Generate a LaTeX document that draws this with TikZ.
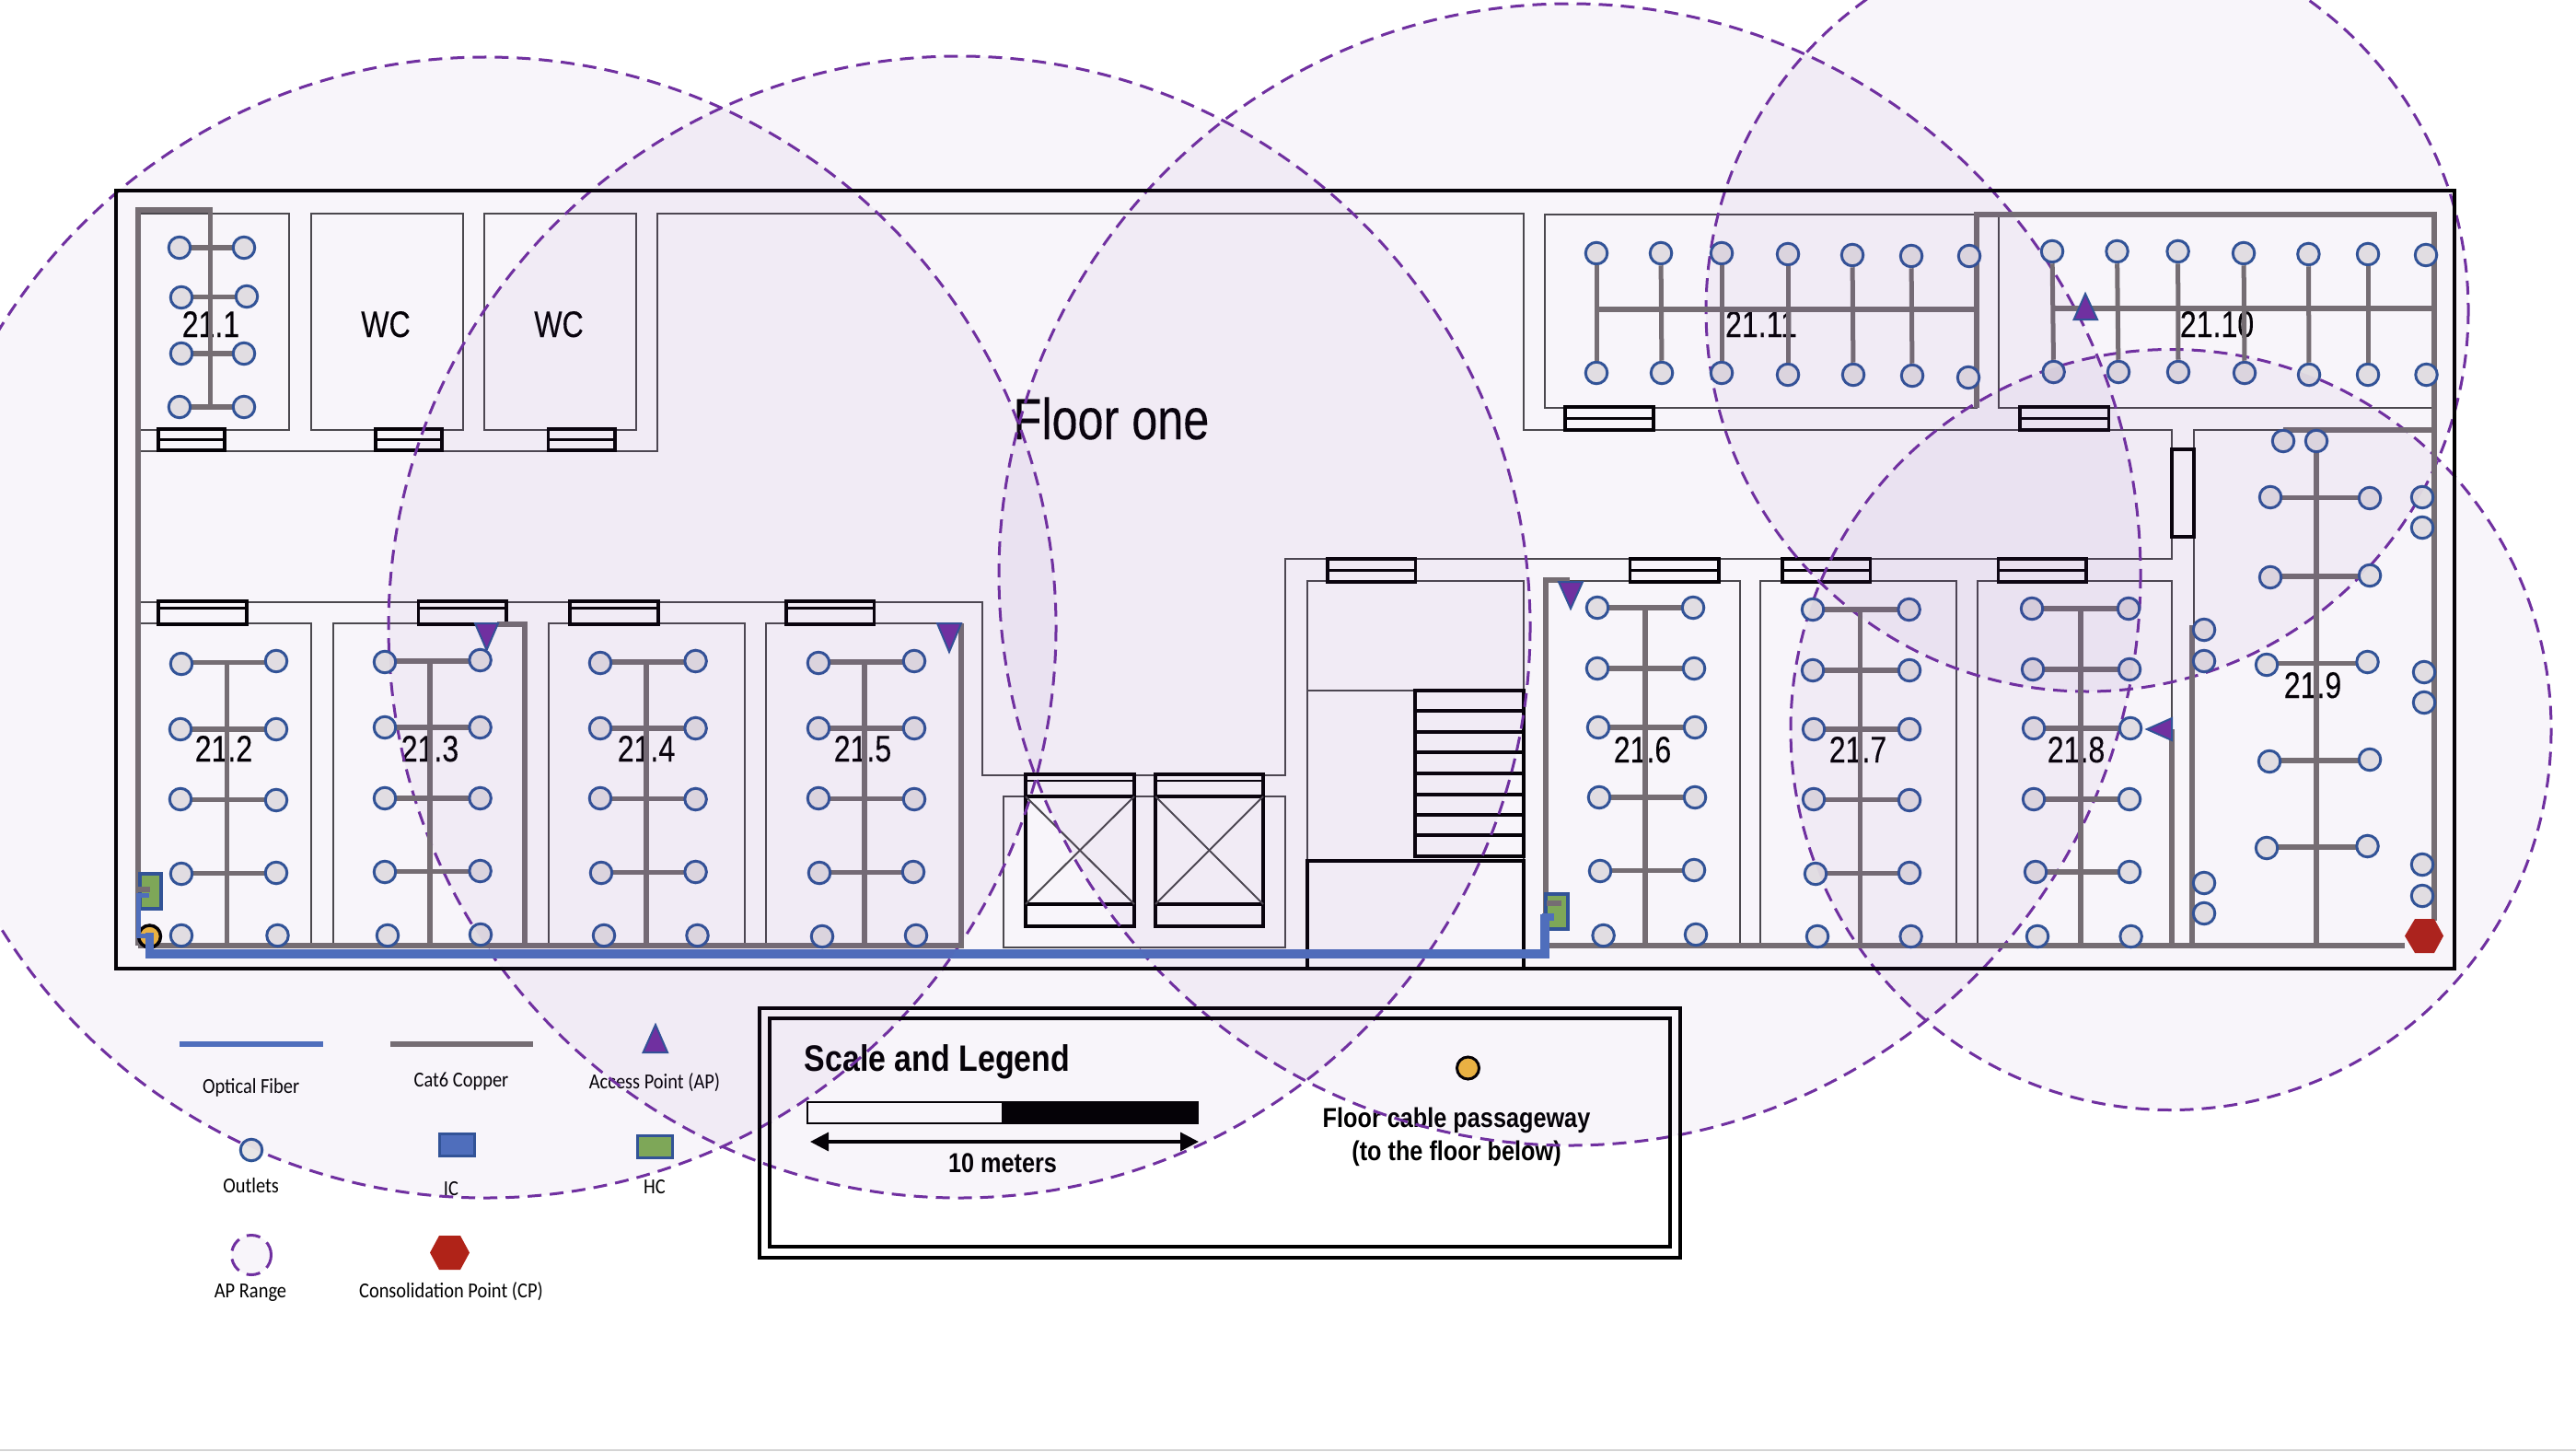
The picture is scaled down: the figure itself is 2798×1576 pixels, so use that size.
\documentclass[tikz,border=0pt]{standalone}
\usepackage{fontspec}
\newfontfamily\plabel[FakeStretch=0.8,FakeBold=0.2]{Liberation Sans}
\newfontfamily\pbold[FakeStretch=0.85]{Liberation Sans}
\newfontfamily\pleg[FakeStretch=0.88]{Carlito}
\usetikzlibrary{arrows.meta}
\definecolor{cable}{HTML}{767171}
\definecolor{fiber}{HTML}{4E72BE}
\definecolor{edgeblue}{HTML}{2F5597}
\definecolor{outletfill}{HTML}{E7E6E6}
\definecolor{apviolet}{HTML}{7030A0}
\definecolor{hcgreen}{HTML}{7FAD55}
\definecolor{cpred}{HTML}{B02318}
\definecolor{passage}{HTML}{F0B83F}
\definecolor{wallgray}{HTML}{4A4A4A}
\tikzset{
  outlet/.style={circle,draw=edgeblue,fill=outletfill,line width=0.03cm,minimum size=0.235cm,inner sep=0pt},
  cat/.style={draw=cable,line width=0.055cm},
  fib/.style={draw=fiber,line width=0.095cm},
  wall/.style={draw=wallgray,line width=0.02cm},
  blk/.style={draw=black,line width=0.035cm},
  ap/.style={draw=edgeblue,fill=apviolet,line width=0.02cm,line join=miter},
  aprange/.style={draw=apviolet,line width=0.03cm,dash pattern=on 0.15cm off 0.09cm},
  aptint/.style={fill=apviolet,fill opacity=0.048},
  room/.style={anchor=base,inner sep=0pt,font=\plabel\fontsize{11.4}{13}\selectfont},
  boldt/.style={anchor=base,inner sep=0pt,font=\pbold\bfseries\fontsize{8.45}{10}\selectfont},
  leg/.style={anchor=base,inner sep=0pt,font=\pleg\fontsize{6.6}{8}\selectfont}
}
\newcommand\rung[4]{\draw[cat] (#1,{(#2+#4)/2}) -- (#3,{(#2+#4)/2});\node[outlet] (ra) at (#1,#2) {};\node[outlet] (rb) at (#3,#4) {};}
\newcommand\lone[2]{\node[outlet] at (#1,#2) {};}
\newcommand\doorh[3]{\draw[blk] (#1,#2) rectangle (#3,#2+25);\draw[draw=black,line width=0.03cm] (#1,#2+12) -- (#3,#2+12);}
\newcommand\stemcol[4]{\node[outlet] (ta) at (#1,#2) {};\node[outlet] (tb) at (#3,#4) {};\draw[cat,line width=0.05cm] (ta) -- (tb);}
\begin{document}
\begin{tikzpicture}[x=0.01cm,y=-0.01cm]
\useasboundingbox (0,0) rectangle (2798,1576);
\fill[white] (0,0) rectangle (2798,1576);
\fill[black!17] (0,1574) rectangle (2798,1576);
% --- labels (cables run over them)
\node[room] (l211) at (229,366) {21.1};
\node[room] (lwc1) at (419,366) {WC};
\node[room] (lwc2) at (607,366) {WC};
\node[room] (l212) at (243,827) {21.2};
\node[room] (l213) at (467,827) {21.3};
\node[room] (l214) at (702,827) {21.4};
\node[room] (l215) at (937,827) {21.5};
\node[room] (l216) at (1784,828) {21.6};
\node[room] (l217) at (2018,828) {21.7};
\node[room] (l218) at (2255,828) {21.8};
\node[room] (l219) at (2512,758) {21.9};
\node[room] (l2111) at (1913,366) {21.11};
\node[room] (l2110) at (2408,366) {21.10};
\node[anchor=base,inner sep=0pt,font=\plabel\fontsize{17.9}{20}\selectfont] (lfloor) at (1207,477) {Floor one};
\node[leg] (kfiber) at (272.6,1187) {Optical Fiber};
\node[leg] (kcat) at (501,1180) {Cat6 Copper};
\node[leg] (kap) at (711,1182) {Access Point (AP)};
\node[leg] (kout) at (272.6,1295) {Outlets};
\node[leg] (kic) at (490,1298) {IC};
\node[leg] (khc) at (711,1296) {HC};
\node[leg] (krange) at (272,1409) {AP Range};
\node[leg] (kcp) at (490,1409) {Consolidation Point (CP)};
\node[anchor=base,inner sep=0pt,font=\pbold\bfseries\fontsize{11.35}{13}\selectfont] (ltitle) at (1018,1163) {Scale and Legend};
\node[boldt] (lten) at (1089,1273) {10 meters};
\node[boldt] (lpa) at (1582,1224) {Floor cable passageway};
\node[boldt] (lpb) at (1582,1260) {(to the floor below)};
% --- walls
\draw[wall] (151,232) rectangle (314,467);
\draw[wall] (337.5,232) rectangle (503,467);
\draw[wall] (526,232) rectangle (691,467);
\draw[wall] (152,490) -- (714,490) -- (714,232) -- (1655,232) -- (1655,467) -- (2359,467) -- (2359,607) -- (1396,607) -- (1396,842) -- (1067,842) -- (1067,654) -- (152,654);
\draw[wall] (152,677) rectangle (338,1027);
\draw[wall] (361.5,677) rectangle (570,1027);
\draw[wall] (596,677) rectangle (808.5,1027);
\draw[wall] (832,677) rectangle (1044,1027);
\draw[wall] (1679,631) rectangle (1890,1027);
\draw[wall] (1912,631) rectangle (2124.5,1027);
\draw[wall] (2148,631) rectangle (2359,1027);
\draw[wall] (1677.5,233) rectangle (2147,443);
\draw[wall] (2171,233) rectangle (2642,443);
\draw[wall] (2383,679) -- (2383,467) -- (2480,467);
% --- lift lobby, lifts, stairs
\draw[wall] (1090,865) rectangle (1396,1029);
\foreach \xa/\xb in {1114/1232,1255/1372}{
  \draw[blk] (\xa,841) rectangle (\xb,1006);
  \draw[blk] (\xa,865) -- (\xb,865);
  \draw[blk] (\xa,982) -- (\xb,982);
  \draw[draw=black,line width=0.025cm] (\xa,848) -- (\xb,848);
  \draw[wall] (\xa,865) -- (\xb,982);
  \draw[wall] (\xa,982) -- (\xb,865);
}
\draw[wall] (1420,935) -- (1420,631) -- (1655,631) -- (1655,935);
\draw[wall] (1420,750) -- (1537,750);
\draw[blk] (1537,750) rectangle (1655,930);
\foreach \ys in {772,795,817,840,863,885,907}{\draw[blk] (1537,\ys) -- (1655,\ys);}
\draw[blk] (1420,935) rectangle (1655,1052);
% --- doors
\foreach \xa/\xb in {172/244,408/480,595.5/668}{\draw[blk] (\xa,466) rectangle (\xb,489);\draw[draw=black,line width=0.03cm] (\xa,477) -- (\xb,477);}
\foreach \xa/\xb in {172/268,454.6/550,619/715,854/949.5}{\draw[blk] (\xa,653) rectangle (\xb,678);\draw[draw=black,line width=0.03cm] (\xa,660) -- (\xb,660);}
\doorh{1442}{607}{1537.5}
\doorh{1700}{442}{1796}
\doorh{2194}{442}{2290.5}
\doorh{1770.5}{607}{1867}
\doorh{1936}{607}{2031.5}
\doorh{2170.6}{607}{2266}
\draw[blk] (2359,488) rectangle (2383,583);
% --- AP range outlines
\begin{scope}
\clip (0,0) rectangle (2798,1576);
\draw[aprange] (527.5,681.5) circle (619.5);
\draw[aprange] (1042,681) circle (620);
\draw[aprange] (1705,624) circle (620);
\draw[aprange] (2267,337) circle (414);
\draw[aprange] (2358,792.5) circle (413);
\end{scope}
% --- frames
\draw[blk,line width=0.04cm] (126,207) rectangle (2666,1052);
\draw[blk] (825,1095) rectangle (1825,1366);
\draw[blk,line width=0.04cm] (836,1106) rectangle (1814,1354);
% --- backbone
\draw[cat] (150,1027) -- (150,228) -- (228.6,228) -- (228.6,442);
\draw[cat] (150,1027) -- (1044,1027) -- (1044,677);
\draw[cat] (570,1027) -- (570,678) -- (540,678);
\draw[cat] (1679,1027) -- (1679,630) -- (1705,630);
\draw[cat] (1679,1027) -- (2612,1027);
\draw[cat] (2359,1027) -- (2359,792);
\draw[cat] (2381,1027) -- (2381,679);
\draw[cat] (2147,443) -- (2147,233) -- (2644,233) -- (2644,1000);
\draw[cat] (2480,467) -- (2644,467);
\draw[cat] (1734,336) -- (2147,336);
\draw[cat] (2228.5,335) -- (2644,335);
% stems in rooms
\foreach \sx/\st in {246.7/720,467/718,702/719,939/719,1787/660,2020.5/662,2260/661,2516/467}{\draw[cat] (\sx,\st) -- (\sx,1027);}
% --- outlets
\rung{195}{269}{265}{269}
\rung{197}{323}{268}{322}
\rung{197}{384}{265}{384}
\rung{195}{442}{265}{442}
\rung{197}{721}{300}{718}\rung{196}{792}{300}{792}\rung{196}{868}{300}{869}\rung{197}{949}{300}{948}
\lone{197}{1016}\lone{301.5}{1016}
\rung{418}{719}{521.6}{717}\rung{418}{790}{521.6}{790}\rung{418}{867}{521.6}{867}\rung{418}{947}{521.6}{946}
\lone{421}{1016}\lone{522}{1015}
\rung{652}{720}{755.6}{718}\rung{652}{791}{755.6}{791}\rung{652}{867}{755.6}{868}\rung{653}{948}{755.6}{947}
\lone{656}{1016}\lone{757.5}{1016}
\rung{889}{720}{993}{718}\rung{889}{791}{993}{791}\rung{889}{867}{993}{868}\rung{890}{948}{992}{947}
\lone{893}{1017}\lone{995}{1016}
\rung{1735}{660}{1839}{660}\rung{1735}{726}{1840}{726}\rung{1736}{790}{1841}{790}\rung{1737}{866}{1841}{866}\rung{1738}{946}{1840}{945}
\lone{1741.6}{1016}\lone{1842}{1015}
\rung{1969}{662}{2073.6}{662}\rung{1969}{728}{2074}{728}\rung{1970}{792}{2074}{792}\rung{1970}{868}{2074}{869}\rung{1972}{949}{2074}{948}
\lone{1974}{1017}\lone{2075.6}{1017}
\rung{2207}{661}{2312}{661}\rung{2208}{727}{2313}{727}\rung{2209}{791}{2314}{791}\rung{2209}{868}{2313}{868}\rung{2211}{947}{2313}{947}
\lone{2213}{1017}\lone{2314.6}{1017}
\rung{2466}{540}{2574}{541}\rung{2466}{627}{2574}{625}\rung{2462}{722}{2571.5}{719}\rung{2465}{827}{2574}{825}\rung{2462}{921}{2571.5}{919}
\lone{2480}{479}\lone{2516}{479}
\lone{2394}{684}\lone{2394}{718}\lone{2394}{959}\lone{2394}{992}
\lone{2631}{540}\lone{2631}{573}\lone{2633}{730}\lone{2633}{763}\lone{2631}{939}\lone{2631}{973}
% horizontal-backbone rooms
\stemcol{1734}{275}{1734}{405}\stemcol{1804}{275}{1805}{405}\stemcol{1870}{275}{1870}{405}\stemcol{1942}{276}{1942}{407}\stemcol{2012}{277}{2013}{407}\stemcol{2076}{278}{2077}{408}
\lone{2139}{278}\lone{2138}{410}
\stemcol{2229}{273}{2230.6}{404}\stemcol{2299.5}{273}{2301}{404}\stemcol{2365.6}{273}{2366}{404}\stemcol{2437}{275}{2438}{405}\stemcol{2507.4}{276}{2508}{407}\stemcol{2572}{276}{2572}{407}
\lone{2635}{277}\lone{2635.5}{407}
% --- telecom rooms and fibre
\draw[draw=edgeblue,fill=hcgreen,line width=0.035cm] (152,949) rectangle (175,987);
\draw[draw=edgeblue,fill=hcgreen,line width=0.035cm] (1679,971) rectangle (1703,1009);
\draw[cable,line width=0.055cm] (148,966) -- (163,966);
\draw[cable,line width=0.055cm] (1680,981) -- (1696,981);
\node[circle,draw=black,fill=passage,line width=0.035cm,minimum size=0.24cm,inner sep=0pt] (pass1) at (162.5,1017) {};
\draw[fib,line width=0.08cm] (1675,996) -- (1688,996);
\draw[fib] (1678,993) -- (1678,1036) -- (162.5,1036) -- (162.5,1013);
\draw[fib,line width=0.05cm] (148,1016) -- (162,1016);
\draw[fib,line width=0.05cm] (150,1016) -- (150,972) -- (162,972);
% --- access points
\draw[ap] (516,677) -- (541,677) -- (528.6,706) -- cycle;
\draw[ap] (1018,677) -- (1044,677) -- (1031,708) -- cycle;
\draw[ap] (1693,632) -- (1719,632) -- (1706,661) -- cycle;
\draw[ap] (2252.6,347) -- (2278,347) -- (2265,319) -- cycle;
\draw[ap] (2359,780) -- (2359,804) -- (2332,792) -- cycle;
\fill[cpred] (2612,1016.5) -- (2623,998) -- (2644,998) -- (2654,1016.5) -- (2644,1035) -- (2623,1035) -- cycle;
% --- key on the left
\draw[draw=fiber,line width=0.06cm] (195,1134) -- (350.6,1134);
\draw[draw=cable,line width=0.06cm] (424,1134) -- (579.4,1134);
\draw[ap] (698.6,1143) -- (725,1143) -- (712,1113) -- cycle;
\node[outlet] (koutlet) at (273,1249) {};
\draw[draw=edgeblue,fill=fiber,line width=0.03cm] (477,1231) rectangle (515,1255);
\draw[draw=edgeblue,fill=hcgreen,line width=0.03cm] (692,1233) rectangle (730,1257);
\draw[aprange,aptint] (273,1363) circle (21.5);
\fill[cpred] (467,1360.5) -- (477,1342) -- (500,1342) -- (510,1360.5) -- (500,1379) -- (477,1379) -- cycle;
% --- scale bar
\draw[draw=black,line width=0.025cm] (877,1197) rectangle (1089,1220);
\fill[black] (1089,1196) rectangle (1302,1221);
\coordinate (scl) at (880,1240);
\coordinate (scr) at (1302,1240);
\draw[draw=black,line width=0.033cm,{Triangle[length=0.2cm,width=0.2cm]}-{Triangle[length=0.2cm,width=0.2cm]}] (scl) -- (scr);
\node[circle,draw=black,fill=passage,line width=0.03cm,minimum size=0.24cm,inner sep=0pt] (kpass) at (1594.5,1160) {};
% --- AP range tint
\begin{scope}
\clip (0,0) rectangle (2798,1576);
\fill[aptint] (527.5,681.5) circle (619.5);
\fill[aptint] (1042,681) circle (620);
\fill[aptint] (1705,624) circle (620);
\fill[aptint] (2267,337) circle (414);
\fill[aptint] (2358,792.5) circle (413);
\end{scope}
\end{tikzpicture}
\end{document}
